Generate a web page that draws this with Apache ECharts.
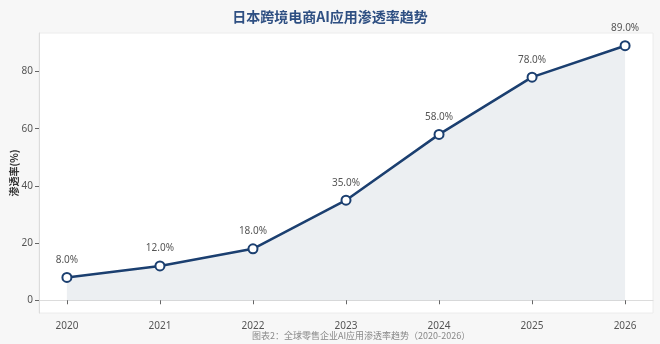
<!DOCTYPE html>
<html><head><meta charset="utf-8">
<script src="https://cdn.jsdelivr.net/npm/echarts@6/dist/echarts.min.js"></script>
<style>html,body{margin:0;padding:0;background:#f7f7f7;}#c{width:660px;height:344px;}</style>
</head><body><div id="c"></div>
<script>
const years = [2020, 2021, 2022, 2023, 2024, 2025, 2026];
const rates = [8.0, 12.0, 18.0, 35.0, 58.0, 78.0, 89.0];
const yTicks = [0, 20, 40, 60, 80];
const titleText = '日本跨境电商AI应用渗透率趋势';
const yName = '渗透率(%)';
const caption = '图表2：全球零售企业AI应用渗透率趋势（2020-2026）';

const chart = echarts.init(document.getElementById('c'));
const font = '"Noto Sans", "Noto Sans CJK SC", sans-serif';
chart.setOption({
  backgroundColor: '#f7f7f7',
  animation: false,
  title: [{
    text: titleText, left: 'center', top: 5,
    textStyle: {fontSize: 14, fontWeight: 'bold', color: '#2e4f82', fontFamily: '"Noto Sans CJK SC", sans-serif'}
  }, {
    text: caption, left: 247, top: 326,
    textStyle: {fontSize: 9, fontWeight: 'normal', color: '#888', fontFamily: '"Noto Sans CJK SC", sans-serif'}
  }],
  grid: {left: 39, right: 7, top: 33, bottom: 31, outerBoundsMode: 'none', containLabel: false,
    show: true, backgroundColor: '#fff', borderColor: '#ececec', borderWidth: 1},
  xAxis: {
    type: 'value', min: 2019.7, max: 2026.3,
    splitLine: {show: false},
    axisLine: {show: true, lineStyle: {color: '#dcdcdc'}},
    axisTick: {show: true, customValues: years, length: 4, lineStyle: {color: '#666'}},
    axisLabel: {customValues: years, color: '#555', fontSize: 10, fontFamily: font, margin: 8, formatter: v => String(v)}
  },
  yAxis: {
    type: 'value', min: -4.45, max: 93.45,
    name: yName, nameLocation: 'middle', nameGap: 20, nameRotate: 90, nameMoveOverlap: false,
    nameTextStyle: {fontSize: 10, fontWeight: 'bold', color: '#333', fontFamily: '"Noto Sans CJK SC", sans-serif'},
    splitLine: {show: false},
    axisLine: {show: true, lineStyle: {color: '#dcdcdc'}},
    axisTick: {show: true, customValues: yTicks, length: 4, lineStyle: {color: '#666'}},
    axisLabel: {customValues: yTicks, color: '#555', fontSize: 10, fontFamily: font, margin: 6}
  },
  series: [{
    type: 'line',
    data: years.map((y, i) => [y, rates[i]]),
    symbol: 'circle', symbolSize: 9,
    lineStyle: {color: '#1b3f70', width: 2.5},
    itemStyle: {color: '#fff', borderColor: '#1b3f70', borderWidth: 2},
    areaStyle: {color: 'rgba(40,65,105,0.12)', origin: 0},
    label: {show: true, position: 'top', distance: 7, color: '#555', fontSize: 10, fontFamily: font,
      formatter: p => p.value[1].toFixed(1) + '%'}
  }]
});
</script></body></html>
